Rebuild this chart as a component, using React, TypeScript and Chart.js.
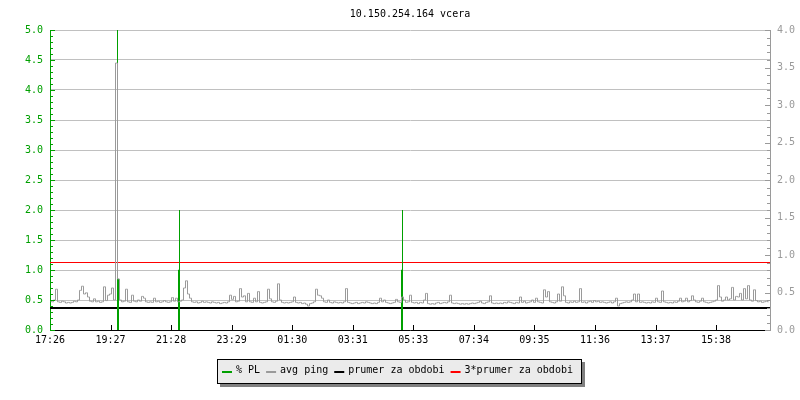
import React, { useEffect, useRef } from 'react';
import { Chart, registerables } from 'chart.js';

Chart.register(...registerables);

const titleText = '10.150.254.164 vcera';

const xTickMinutes = [0, 121.1, 242.2, 363.3, 484.4, 605.5, 726.6, 847.7, 968.8, 1089.9, 1211.0, 1332.1];
const xTickLabels = ['17:26', '19:27', '21:28', '23:29', '01:30', '03:31', '05:33', '07:34', '09:35', '11:36', '13:37', '15:38'];
const xMaxMinutes = 1440;

const seriesLabels = ['% PL', 'avg ping', 'prumer za obdobi', '3*prumer za obdobi'];

// avg ping, one sample every 4 minutes starting at minute 1
const pingFirstMinute = 1;
const pingStepMinutes = 4;
const avgPing = [
  0.48, 0.47, 0.5, 0.68, 0.47, 0.46, 0.48, 0.47, 0.45, 0.46, 0.45, 0.46, 0.48, 0.47, 0.5, 0.66, 0.73, 0.6, 0.62, 0.55,
  0.48, 0.47, 0.52, 0.47, 0.48, 0.46, 0.47, 0.72, 0.49, 0.58, 0.6, 0.7, 0.5, 4.45, 0.85, 0.5, 0.47, 0.48, 0.68, 0.47,
  0.46, 0.58, 0.48, 0.47, 0.5, 0.48, 0.56, 0.53, 0.47, 0.46, 0.47, 0.46, 0.53, 0.47, 0.48, 0.46, 0.47, 0.49, 0.47, 0.46,
  0.47, 0.54, 0.48, 0.53, 0.47, 0.48, 0.5, 0.7, 0.82, 0.6, 0.53, 0.47, 0.46, 0.47, 0.45, 0.46, 0.48, 0.46, 0.47, 0.46,
  0.45, 0.47, 0.46, 0.45, 0.46, 0.44, 0.45, 0.46, 0.45, 0.47, 0.58, 0.51, 0.56, 0.47, 0.48, 0.69, 0.55, 0.57, 0.47, 0.61,
  0.47, 0.46, 0.53, 0.47, 0.64, 0.46, 0.45, 0.46, 0.47, 0.68, 0.52, 0.47, 0.46, 0.48, 0.77, 0.5, 0.46, 0.45, 0.46, 0.45,
  0.46, 0.47, 0.55, 0.46, 0.45, 0.46, 0.44, 0.45, 0.43, 0.4, 0.44, 0.45, 0.47, 0.68, 0.58, 0.57, 0.53, 0.47, 0.46, 0.5,
  0.46, 0.45, 0.47, 0.46, 0.45, 0.46, 0.45, 0.47, 0.69, 0.46, 0.45, 0.44, 0.45, 0.46, 0.44, 0.45, 0.46, 0.45, 0.47, 0.46,
  0.45, 0.44, 0.45, 0.44, 0.46, 0.53, 0.47, 0.5, 0.46, 0.45, 0.44, 0.45, 0.46, 0.51, 0.47, 0.46, 0.55, 0.5, 0.46, 0.47,
  0.58, 0.46, 0.45, 0.46, 0.44, 0.46, 0.45, 0.5, 0.61, 0.44, 0.43, 0.44, 0.43, 0.45, 0.46, 0.44, 0.45, 0.46, 0.45, 0.47,
  0.58, 0.45, 0.44, 0.45, 0.44, 0.43, 0.44, 0.43, 0.44, 0.43, 0.44, 0.45, 0.44, 0.45, 0.46, 0.48, 0.45, 0.44, 0.46, 0.47,
  0.57, 0.45, 0.44, 0.45, 0.44, 0.45, 0.44, 0.46, 0.45, 0.47, 0.46, 0.45, 0.44, 0.46, 0.45, 0.55, 0.46, 0.48, 0.45, 0.46,
  0.47, 0.5, 0.46, 0.53, 0.47, 0.46, 0.45, 0.67, 0.55, 0.64, 0.47, 0.46, 0.45, 0.47, 0.6, 0.48, 0.72, 0.57, 0.46, 0.45,
  0.47, 0.46, 0.48, 0.46, 0.47, 0.69, 0.46, 0.47, 0.45, 0.47, 0.48, 0.46, 0.49, 0.47, 0.48, 0.46, 0.47, 0.46, 0.45, 0.46,
  0.47, 0.45, 0.47, 0.53, 0.4, 0.44, 0.45, 0.46, 0.47, 0.46, 0.47, 0.5, 0.6, 0.47, 0.6, 0.46, 0.47, 0.46, 0.45, 0.46,
  0.45, 0.47, 0.46, 0.53, 0.47, 0.46, 0.65, 0.47, 0.46, 0.45, 0.46, 0.45, 0.47, 0.46, 0.48, 0.53, 0.47, 0.48, 0.53, 0.47,
  0.49, 0.57, 0.5, 0.47, 0.46, 0.48, 0.53, 0.47, 0.46, 0.45, 0.46, 0.47, 0.48, 0.5, 0.74, 0.55, 0.48, 0.5, 0.55, 0.5,
  0.52, 0.71, 0.5, 0.56, 0.55, 0.61, 0.5, 0.69, 0.52, 0.74, 0.5, 0.48, 0.67, 0.49, 0.47, 0.48, 0.46, 0.47, 0.48, 0.47,
];

// % packet loss: only the non-zero episodes (null separates them)
const plTimes = [135, 135, 135, 137, 137, 137, 257, 257, 259, 259, 259, 259, 703, 703, 705, 705, 705];
const plValues = [0, 5.0, 0.85, 0.85, 0, null, 0, 1.0, 1.0, 2.0, 0, null, 0, 1.0, 1.0, 2.0, 0];

const periodAverage = 0.367;
const triplePeriodAverage = 1.125;

const GREEN = '#00a000';
const GRAY = '#9a9a9a';
const BLACK = '#000000';
const RED = '#ff0000';
const FONT = '"DejaVu Sans Mono", monospace';

const decorPlugin = {
  id: 'rrdDecor',
  afterDraw(chart: any) {
    const ctx = chart.ctx as CanvasRenderingContext2D;
    const { left, right } = chart.chartArea;
    const ys = chart.scales.y;
    const y2s = chart.scales.y2;
    const xs = chart.scales.x;
    ctx.save();
    // left axis ticks (inward)
    ctx.fillStyle = GREEN;
    for (let k = 0; k <= 50; k++) {
      const py = Math.round(ys.getPixelForValue(k / 10));
      const len = k % 5 === 0 ? 5 : 3;
      ctx.fillRect(Math.round(left), py, len, 1);
    }
    // right axis ticks (inward)
    ctx.fillStyle = GRAY;
    for (let k = 0; k <= 40; k++) {
      const py = Math.round(y2s.getPixelForValue(k / 10));
      const len = k % 5 === 0 ? 5 : 3;
      ctx.fillRect(Math.round(right) - len, py, len, 1);
    }
    // x ticks upward
    ctx.fillStyle = BLACK;
    const bottom = Math.round(chart.chartArea.bottom);
    xTickMinutes.forEach((t) => {
      const px = Math.round(xs.getPixelForValue(t));
      if (px <= left + 1) return;
      ctx.fillRect(px, bottom - 5, 1, 5);
    });
    // title
    ctx.font = '10px ' + FONT;
    ctx.textAlign = 'center';
    ctx.textBaseline = 'alphabetic';
    ctx.fillStyle = BLACK;
    ctx.fillText(titleText, (left + right) / 2, 17);
    // legend
    const ds = chart.data.datasets;
    const swatch = 10;
    const gapText = 4;
    const gapItem = 6;
    const padL = 5;
    const padR = 8;
    let total = padL + padR;
    ds.forEach((d: any, i: number) => {
      total += swatch + gapText + ctx.measureText(d.label).width + (i < ds.length - 1 ? gapItem : 0);
    });
    const bx = Math.round(399 - total / 2);
    const by = 359;
    const bh = 24;
    const bw = Math.round(total);
    ctx.fillStyle = '#808080';
    ctx.fillRect(bx + 3, by + 3, bw + 1, bh + 1);
    ctx.fillStyle = '#ebebeb';
    ctx.fillRect(bx, by, bw, bh);
    ctx.strokeStyle = BLACK;
    ctx.lineWidth = 1;
    ctx.strokeRect(bx + 0.5, by + 0.5, bw, bh);
    let cx = bx + padL;
    ctx.textAlign = 'left';
    ds.forEach((d: any) => {
      ctx.fillStyle = d.borderColor;
      ctx.fillRect(cx, 371, swatch, 2);
      cx += swatch + gapText;
      ctx.fillStyle = BLACK;
      ctx.fillText(d.label, cx, 373);
      cx += ctx.measureText(d.label).width + gapItem;
    });
    ctx.restore();
  },
};

export default function App() {
  const canvasRef = useRef<HTMLCanvasElement | null>(null);

  useEffect(() => {
    document.body.style.margin = '0';
    const canvas = canvasRef.current;
    if (!canvas) return;

    const pingData = avgPing.map((v, i) => ({ x: pingFirstMinute + i * pingStepMinutes, y: v }));
    const plData = plTimes.map((t, i) => ({ x: t, y: plValues[i] }));

    const chart = new Chart(canvas, {
      type: 'line',
      data: {
        datasets: [
          {
            label: seriesLabels[0],
            data: plData as any,
            borderColor: GREEN,
            backgroundColor: GREEN,
            borderWidth: 1,
            pointRadius: 0,
            spanGaps: false,
            tension: 0,
            order: 1,
          },
          {
            label: seriesLabels[1],
            data: pingData,
            borderColor: GRAY,
            backgroundColor: GRAY,
            borderWidth: 1,
            pointRadius: 0,
            stepped: 'middle',
            order: 0,
          },
          {
            label: seriesLabels[2],
            data: [
              { x: 0, y: periodAverage },
              { x: xMaxMinutes, y: periodAverage },
            ],
            borderColor: BLACK,
            backgroundColor: BLACK,
            borderWidth: 2,
            pointRadius: 0,
            order: 2,
          },
          {
            label: seriesLabels[3],
            data: [
              { x: 0, y: triplePeriodAverage },
              { x: xMaxMinutes, y: triplePeriodAverage },
            ],
            borderColor: RED,
            backgroundColor: RED,
            borderWidth: 1,
            pointRadius: 0,
            order: 3,
          },
        ],
      },
      options: {
        animation: false,
        responsive: false,
        devicePixelRatio: 1,
        parsing: false as any,
        normalized: true,
        layout: { padding: { top: 30, left: 0, right: 0, bottom: 0 } },
        plugins: {
          legend: { display: false },
          tooltip: { enabled: false },
          title: { display: false },
        },
        scales: {
          x: {
            type: 'linear',
            min: 0,
            max: xMaxMinutes,
            afterBuildTicks: (scale: any) => {
              scale.ticks = xTickMinutes.map((v) => ({ value: v }));
            },
            afterFit: (scale: any) => {
              scale.height = 70;
            },
            ticks: {
              autoSkip: false,
              maxRotation: 0,
              minRotation: 0,
              padding: 4,
              color: BLACK,
              font: { family: FONT, size: 10 },
              callback: (_v: any, i: number) => xTickLabels[i],
            },
            grid: { display: false, drawTicks: false },
            border: { display: true, color: BLACK, width: 1 },
          },
          y: {
            type: 'linear',
            position: 'left',
            min: 0,
            max: 5,
            afterFit: (scale: any) => {
              scale.width = 50;
            },
            ticks: {
              stepSize: 0.5,
              padding: 7,
              color: GREEN,
              font: { family: FONT, size: 10 },
              callback: (v: any) => Number(v).toFixed(1),
            },
            grid: { color: '#c0c0c0', lineWidth: 1, drawTicks: false },
            border: { display: true, color: GREEN, width: 1 },
          },
          y2: {
            type: 'linear',
            position: 'right',
            min: 0,
            max: 4,
            afterFit: (scale: any) => {
              scale.width = 30;
            },
            ticks: {
              stepSize: 0.5,
              padding: 7,
              color: GRAY,
              font: { family: FONT, size: 10 },
              callback: (v: any) => Number(v).toFixed(1),
            },
            grid: { display: false, drawOnChartArea: false, drawTicks: false },
            border: { display: true, color: GRAY, width: 1 },
          },
        },
      },
      plugins: [decorPlugin],
    });

    return () => {
      chart.destroy();
    };
  }, []);

  return (
    <div style={{ width: 800, height: 400, background: '#ffffff' }}>
      <canvas ref={canvasRef} width={800} height={400} style={{ display: 'block' }} />
    </div>
  );
}
